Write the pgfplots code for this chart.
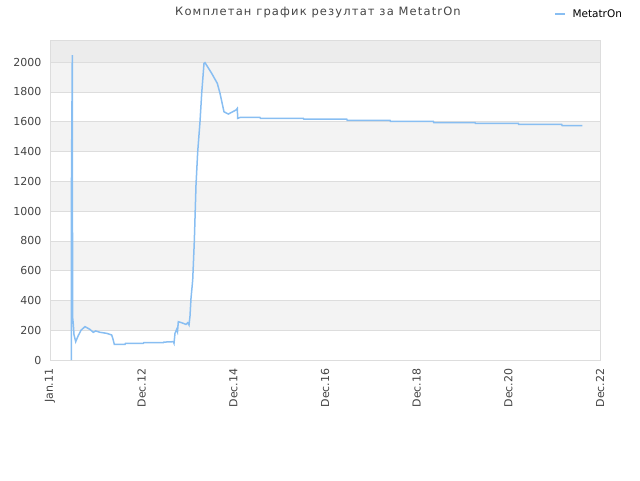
\documentclass[border=0pt]{standalone}
\usepackage{fontspec}
\setmainfont{DejaVu Sans}
\usepackage{pgfplots}
\pgfplotsset{compat=1.18}

\definecolor{serie}{RGB}{136,190,242}
\definecolor{bandA}{RGB}{243,243,243}
\definecolor{bandB}{RGB}{236,236,236}
\definecolor{gridc}{RGB}{221,221,221}
\definecolor{tickc}{RGB}{68,68,68}

\begin{document}
\begin{tikzpicture}
\path (0pt,0pt) rectangle (640pt,480pt);
\node[text=tickc, font=\fontsize{11.5}{13}\selectfont\addfontfeatures{LetterSpace=10}] at (318pt,468pt) {Комплетан график резултат за MetatrOn};
\draw[serie, line width=1.5pt] (555pt,466pt) -- (565pt,466pt);
\node[anchor=west, font=\fontsize{10.5}{12}\selectfont] at (569pt,466.5pt) {MetatrOn};
\begin{axis}[
    at={(50pt,120pt)}, anchor=south west,
    scale only axis, width=550pt, height=320pt,
    xmin=50, xmax=600, ymin=0, ymax=2148,
    axis line style={gridc},
    ytick={0,200,...,2000},
    ymajorgrids, grid style={gridc, line width=0.6pt},
    xtick={50,141.67,233.33,325,416.67,508.33,600},
    xticklabels={Jan.11,Dec.12,Dec.14,Dec.16,Dec.18,Dec.20,Dec.22},
    x tick label style={rotate=90, anchor=east, xshift=-5pt},
    y tick label style={xshift=-5pt},
    tick style={draw=none},
    tick label style={text=tickc, font=\fontsize{11}{13}\selectfont},
    /pgf/number format/assume math mode=true,
    /pgf/number format/1000 sep={},
    set layers,
]
\begin{pgfonlayer}{axis background}
\fill[bandA] (axis cs:50,200) rectangle (axis cs:600,400);
\fill[bandA] (axis cs:50,600) rectangle (axis cs:600,800);
\fill[bandA] (axis cs:50,1000) rectangle (axis cs:600,1200);
\fill[bandA] (axis cs:50,1400) rectangle (axis cs:600,1600);
\fill[bandA] (axis cs:50,1800) rectangle (axis cs:600,2000);
\fill[bandB] (axis cs:50,2000) rectangle (axis cs:600,2148);
\end{pgfonlayer}
\addplot[serie, line width=1.5pt, mark=none] coordinates {
(71.3,0) (71.3,1020) (72.3,2047) (72.5,850) (72.7,280) (73.3,240) (74,170)
(75.7,123) (78,160) (81,200) (85,224) (90,205) (93.3,186) (95.7,195)
(100,186) (106.7,179) (111.7,168) (113,140) (114.3,105) (125,105)
(125.5,112) (143.3,112) (143.8,116) (163.3,116) (163.8,120) (173.3,123)
(174,112) (175,179) (176.7,206) (177.5,190) (178.3,257) (181.7,250)
(186,239) (187.7,250) (189,235) (190,295) (191,414) (192.7,537)
(194.3,794) (196,1174) (197.7,1398) (200,1599) (201.7,1790) (204,1991)
(205,1996) (211.7,1924) (217.3,1857) (220,1790) (224,1666) (228.3,1651)
(236,1678) (237.3,1689) (237.7,1622) (240,1628) (260,1628) (260.5,1622)
(303.3,1622) (303.8,1617) (346.7,1617) (347.2,1609) (390,1609)
(390.5,1601) (433.3,1601) (433.8,1594) (475,1594) (475.5,1588)
(518.3,1588) (518.8,1581) (561.7,1581) (562.2,1574) (582.3,1574)
};
\end{axis}
\end{tikzpicture}
\end{document}
